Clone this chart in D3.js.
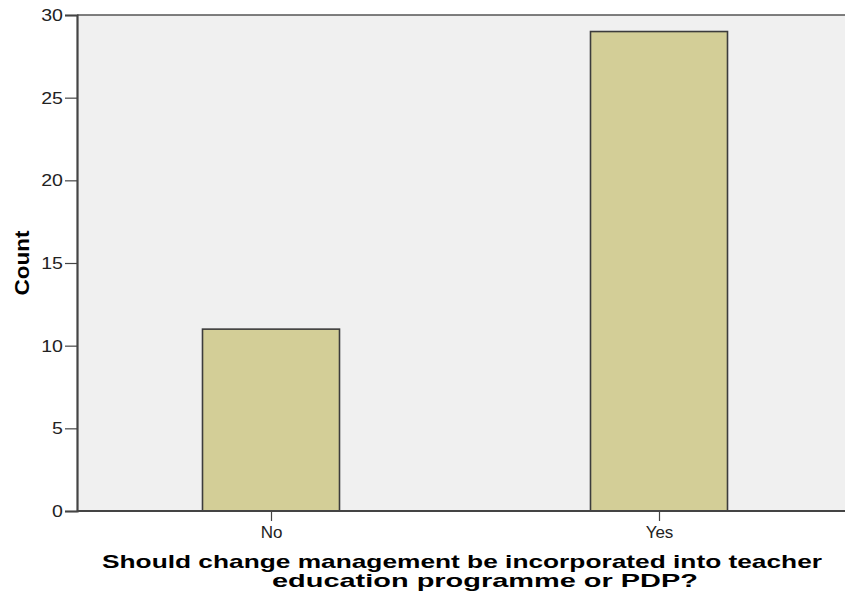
<!DOCTYPE html>
<meta charset="utf-8">
<style>
  body { margin: 0; background: #fff; }
  text { font-family: Arial, "Liberation Sans", sans-serif; }
</style>
<body>
<svg width="845" height="598"></svg>
<script src="https://cdn.jsdelivr.net/npm/d3@7"></script>
<script>

var categories = ["No", "Yes"];
var counts = [11, 29];
var yTicks = [0, 5, 10, 15, 20, 25, 30];
var xTitleLines = ["Should change management be incorporated into teacher", "education programme or PDP?"];

var svg = d3.select("svg");

var margin = {top: 15, left: 77, bottom: 87},
    plotRight = 853,
    height = +svg.attr("height") - margin.top - margin.bottom;

// scales
var x = d3.scalePoint()
    .domain(categories)
    .range([margin.left, plotRight])
    .padding(0.5);
var y = d3.scaleLinear()
    .domain([0, 30])
    .range([margin.top + height, margin.top]);

var barWidth = 137;

// plot background
svg.append("rect")
    .attr("x", margin.left)
    .attr("y", margin.top)
    .attr("width", plotRight - margin.left)
    .attr("height", height)
    .attr("fill", "#f0f0f0");

// top border
svg.append("line")
    .attr("x1", margin.left).attr("x2", plotRight)
    .attr("y1", margin.top).attr("y2", margin.top)
    .attr("stroke", "#555").attr("stroke-width", 1.5);

// bars
svg.selectAll(".bar")
    .data(categories)
    .enter().append("rect")
    .attr("class", "bar")
    .attr("x", function (d) { return x(d) - barWidth / 2; })
    .attr("width", barWidth)
    .attr("y", function (d, i) { return y(counts[i]); })
    .attr("height", function (d, i) { return y(0) - y(counts[i]); })
    .attr("fill", "#d3ce97")
    .attr("stroke", "#3c3c3c")
    .attr("stroke-width", 1.6);

// y axis
var yAxis = svg.append("g")
    .attr("transform", "translate(" + margin.left + ",0)")
    .call(d3.axisLeft(y).tickValues(yTicks).tickSize(12).tickPadding(2));
yAxis.select(".domain").attr("stroke", "#444").attr("stroke-width", 2.2);
yAxis.selectAll(".tick line").attr("stroke", "#444").attr("stroke-width", 1.2);
yAxis.selectAll(".tick text")
    .attr("font-size", 17)
    .attr("fill", "#222")
    .attr("font-family", "Arial, 'Liberation Sans', sans-serif")
    .attr("x", -12.2)
    .attr("transform", "scale(1.15,1)");

// x axis
var xAxis = svg.append("g")
    .attr("transform", "translate(0," + y(0) + ")")
    .call(d3.axisBottom(x).tickSize(10).tickPadding(5).tickSizeOuter(0));
xAxis.select(".domain")
    .attr("d", "M" + margin.left + ",0H" + plotRight)
    .attr("stroke", "#444").attr("stroke-width", 2);
xAxis.selectAll(".tick line").attr("stroke", "#444").attr("stroke-width", 1.2);
xAxis.selectAll(".tick text")
    .attr("font-size", 17)
    .attr("fill", "#222")
    .attr("font-family", "Arial, 'Liberation Sans', sans-serif");

// axis titles
svg.append("text")
    .attr("transform", "translate(29,263) rotate(-90)")
    .attr("text-anchor", "middle")
    .attr("font-size", 20)
    .attr("font-weight", "bold")
    .attr("textLength", 65)
    .attr("lengthAdjust", "spacingAndGlyphs")
    .text("Count");

var titleCenters = [462, 485],
    titleLengths = [720, 426],
    titleBaselines = [568, 587];
xTitleLines.forEach(function (t, i) {
    svg.append("text")
        .attr("x", titleCenters[i])
        .attr("y", titleBaselines[i])
        .attr("text-anchor", "middle")
        .attr("font-size", 19)
        .attr("font-weight", "bold")
        .attr("textLength", titleLengths[i])
        .attr("lengthAdjust", "spacingAndGlyphs")
        .text(t);
});

</script>
</body>
